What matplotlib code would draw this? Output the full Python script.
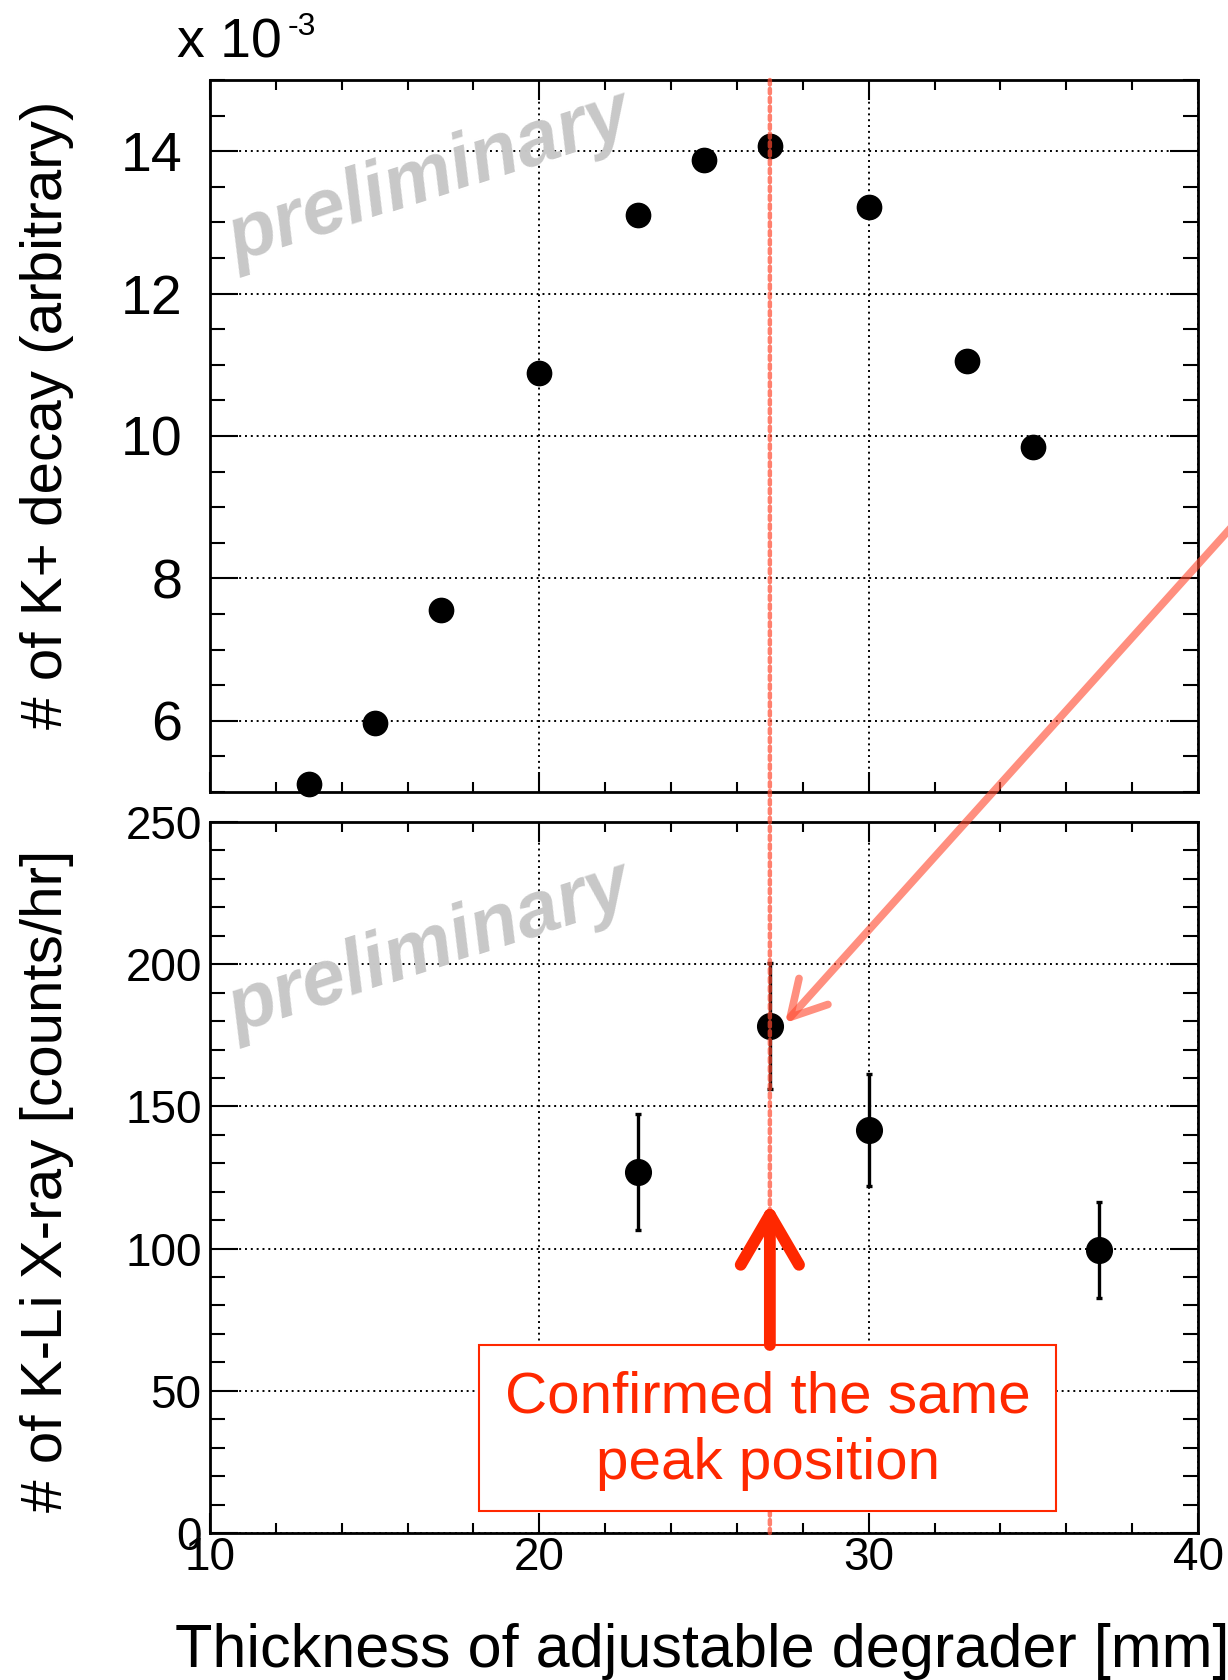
import matplotlib
matplotlib.use("Agg")
import matplotlib.pyplot as plt
from matplotlib.ticker import MultipleLocator, NullFormatter
from matplotlib.patches import Rectangle, ConnectionPatch

plt.rcParams["font.family"] = ["Liberation Sans", "DejaVu Sans"]

# --- data ---
kaon_thickness = [13, 15, 17, 20, 23, 25, 27, 30, 33, 35]
kaon_decay = [5.11, 5.97, 7.55, 10.89, 13.10, 13.87, 14.08, 13.22, 11.05, 9.85]  # x 1e-3

xray_thickness = [23, 27, 30, 37]
xray_rate = [126.8, 178.3, 141.7, 99.5]
xray_err = [20.4, 22.1, 19.7, 16.9]

peak_x = 27

SALMON = "#FF4A30"
RED = "#FF2800"

fig = plt.figure(figsize=(12.28, 16.8), dpi=100)
W, H = 1228, 1680
ax1 = fig.add_axes([210 / W, 1 - 792 / H, 988 / W, 712 / H])
ax2 = fig.add_axes([210 / W, 1 - 1533 / H, 988 / W, 711 / H])

grid_kw = dict(color="black", linestyle=(0, (1, 2)), linewidth=1.4)

for ax in (ax1, ax2):
    ax.set_xlim(10, 40)
    ax.xaxis.set_major_locator(MultipleLocator(10))
    ax.xaxis.set_minor_locator(MultipleLocator(2))
    ax.tick_params(which="both", direction="in", top=True, right=True, width=1.5)
    ax.tick_params(axis="x", which="major", length=14.4)
    ax.tick_params(axis="x", which="minor", length=7.2)
    ax.tick_params(axis="y", which="major", length=20)
    ax.tick_params(axis="y", which="minor", length=10.8)
    for s in ax.spines.values():
        s.set_linewidth(2)
    ax.set_axisbelow(True)
    ax.grid(True, which="major", **grid_kw)

# top panel: K+ decays
ax1.set_ylim(5, 15)
ax1.yaxis.set_major_locator(MultipleLocator(2))
ax1.yaxis.set_minor_locator(MultipleLocator(0.5))
ax1.xaxis.set_major_formatter(NullFormatter())
ax1.tick_params(axis="y", labelsize=40, pad=20)
ax1.plot(kaon_thickness, kaon_decay, "o", color="black", markersize=17.5,
         clip_on=False, zorder=4)

# bottom panel: K-Li X-ray rate
ax2.set_ylim(0, 250)
ax2.yaxis.set_major_locator(MultipleLocator(50))
ax2.yaxis.set_minor_locator(MultipleLocator(10))
ax2.tick_params(axis="y", labelsize=33, pad=6)
ax2.tick_params(axis="x", labelsize=33, pad=2)
ax2.errorbar(xray_thickness, xray_rate, yerr=xray_err, fmt="o", color="black",
             markersize=18.5, elinewidth=2.4, capsize=2.2, capthick=2.4, zorder=4)

# watermarks
for ax, yy in ((ax1, 0.862), (ax2, 0.82)):
    ax.text(0.222, yy, "preliminary", transform=ax.transAxes, rotation=18,
            ha="center", va="center", fontsize=56, fontweight="bold",
            style="italic", color="#c8c8c8", zorder=1)

# dotted peak line through both panels
peak_line = ConnectionPatch(xyA=(peak_x, 15), coordsA=ax1.transData,
                            xyB=(peak_x, 0), coordsB=ax2.transData,
                            color=SALMON, alpha=0.7, linewidth=3.2,
                            linestyle=(0, (1, 1)), zorder=5)
peak_line.set_clip_on(False)
ax2.add_artist(peak_line)

# salmon arrow from the top panel to the X-ray peak
ax2.annotate("", xy=(27.46, 179.3), xycoords="data",
             xytext=(1.0586, 0.7315), textcoords="figure fraction",
             annotation_clip=False,
             arrowprops=dict(arrowstyle="->,head_length=25,head_width=14",
                             mutation_scale=1, color=SALMON, alpha=0.62,
                             linewidth=5.5, shrinkA=0, shrinkB=0))

# annotation box
box = Rectangle((18.17, 7.73), 35.69 - 18.17, 66.1 - 7.73, facecolor="white",
                edgecolor=RED, linewidth=1.5, zorder=6)
ax2.add_patch(box)
ax2.text(26.93, 36.0, "Confirmed the same\npeak position", ha="center",
         va="center", fontsize=42, color=RED, linespacing=1.3, zorder=7)
ax2.annotate("", xy=(peak_x, 116.0), xytext=(peak_x, 66.1),
             arrowprops=dict(arrowstyle="->,head_length=36,head_width=21",
                             mutation_scale=1, color=RED, linewidth=8.5,
                             shrinkA=0, shrinkB=0), zorder=7)

# labels
fig.text(47 / W, 1 - 415 / H, "# of K+ decay (arbitrary)", rotation=90,
         ha="center", va="center", fontsize=42)
fig.text(47 / W, 1 - 1181 / H, "# of K-Li X-ray [counts/hr]", rotation=90,
         ha="center", va="center", fontsize=42)
fig.text(175 / W, 1 - 1667 / H, "Thickness of adjustable degrader [mm]",
         ha="left", va="baseline", fontsize=44)
fig.text(177 / W, 1 - 58 / H, "x 10", ha="left", va="baseline", fontsize=40)
fig.text(288 / W, 1 - 12 / H, "-3", ha="left", va="top", fontsize=23)

fig.savefig("out.png", dpi=100)
